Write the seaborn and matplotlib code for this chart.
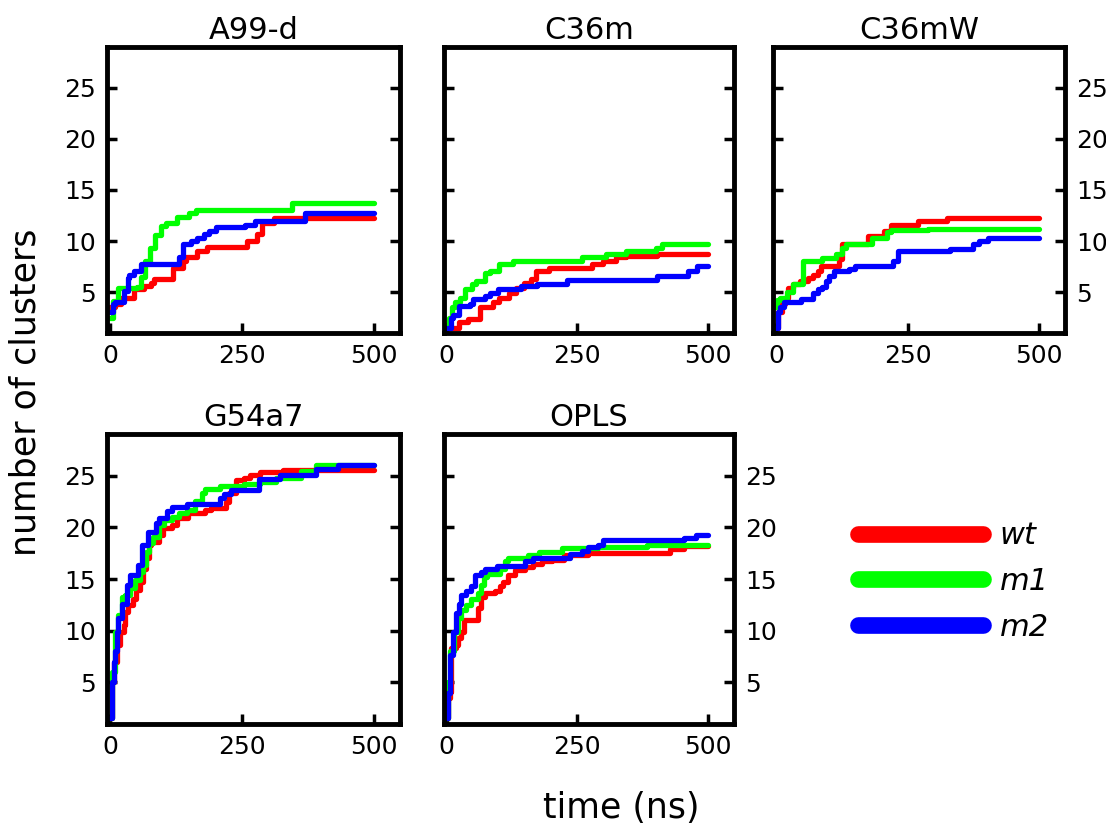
import pandas as pd
import matplotlib.pyplot as plt
import seaborn as sns
from matplotlib.lines import Line2D

sns.set_theme(style="white")
plt.rcParams['font.family'] = ['DejaVu Sans']
plt.rcParams['text.color'] = 'black'

# time (ns) / number of clusters
a99_wt_t = [0, 8, 20, 45, 64, 77, 83, 118, 137, 143, 165, 184, 259, 278, 288, 310, 500]
a99_wt_n = [3.5, 3.8, 4.4, 5.3, 5.6, 5.9, 6.3, 7.4, 8.0, 8.4, 9.0, 9.4, 10.0, 10.7, 11.8, 12.3, 12.3]
a99_m1_t = [0, 5, 15, 50, 58, 65, 75, 85, 95, 105, 127, 149, 162, 344, 500]
a99_m1_n = [2.5, 4.1, 5.4, 5.5, 6.5, 8.0, 9.3, 10.6, 11.5, 11.8, 12.4, 12.7, 13.0, 13.7, 13.7]
a99_m2_t = [0, 4, 8, 26, 33, 36, 45, 58, 124, 130, 137, 152, 165, 178, 187, 200, 256, 275, 363, 370, 500]
a99_m2_n = [3.0, 3.8, 4.0, 5.1, 6.4, 6.7, 7.1, 7.7, 7.7, 8.4, 9.7, 10.0, 10.3, 10.7, 11.0, 11.4, 11.6, 12.0, 12.0, 12.7, 12.7]

c36m_wt_t = [0, 23, 41, 63, 89, 101, 120, 133, 148, 161, 170, 195, 277, 299, 324, 343, 403, 500]
c36m_wt_n = [1.5, 2.1, 2.4, 3.5, 4.0, 4.4, 4.9, 5.4, 5.9, 6.3, 7.1, 7.4, 7.7, 8.0, 8.4, 8.5, 8.7, 8.7]
c36m_m1_t = [0, 5, 10, 16, 26, 35, 48, 57, 73, 82, 101, 126, 258, 305, 343, 400, 412, 500]
c36m_m1_n = [1.8, 2.5, 3.5, 4.0, 4.4, 5.3, 5.8, 6.1, 6.9, 7.1, 7.7, 8.0, 8.4, 8.7, 9.0, 9.3, 9.7, 9.7]
c36m_m2_t = [0, 8, 13, 23, 45, 51, 73, 82, 98, 142, 173, 230, 403, 462, 478, 500]
c36m_m2_n = [1.5, 2.5, 2.8, 3.6, 3.8, 4.3, 4.6, 4.9, 5.3, 5.6, 5.8, 6.2, 6.6, 7.1, 7.6, 7.6]

c36mw_wt_t = [0, 3, 11, 17, 23, 32, 45, 60, 70, 79, 85, 119, 126, 175, 206, 219, 269, 325, 500]
c36mw_wt_n = [1.5, 3.0, 3.8, 4.4, 5.4, 5.8, 6.1, 6.4, 6.7, 7.1, 7.6, 8.2, 9.7, 10.5, 11.0, 11.6, 12.0, 12.3, 12.3]
c36mw_m1_t = [0, 2, 8, 20, 32, 51, 88, 113, 126, 132, 182, 210, 219, 289, 500]
c36mw_m1_n = [3.5, 4.2, 4.4, 5.0, 5.8, 8.0, 8.3, 8.7, 9.3, 9.7, 10.3, 10.9, 11.1, 11.2, 11.2]
c36mw_m2_t = [0, 3, 7, 14, 48, 70, 79, 88, 95, 101, 110, 138, 150, 222, 231, 331, 374, 387, 403, 500]
c36mw_m2_n = [1.5, 3.0, 3.5, 4.0, 4.3, 4.9, 5.3, 5.5, 6.1, 6.6, 7.1, 7.3, 7.6, 8.0, 9.0, 9.2, 9.7, 10.0, 10.3, 10.3]

g54_wt_t = [0, 3, 6, 12, 19, 25, 28, 34, 43, 49, 56, 62, 68, 74, 77, 93, 99, 117, 127, 148, 179, 191, 219, 225, 238, 253, 265, 284, 327, 500]
g54_wt_n = [1.5, 5.0, 7.0, 8.6, 9.9, 10.5, 11.8, 12.5, 13.1, 13.9, 14.7, 16.0, 17.0, 18.3, 18.6, 19.3, 19.9, 20.2, 20.9, 21.4, 21.7, 21.9, 22.5, 23.3, 24.6, 24.8, 25.1, 25.4, 25.6, 25.6]
g54_m1_t = [0, 3, 9, 15, 22, 28, 37, 46, 56, 62, 68, 74, 80, 93, 102, 117, 130, 145, 160, 173, 179, 207, 253, 284, 315, 361, 389, 500]
g54_m1_n = [1.5, 6.0, 9.9, 11.5, 13.3, 13.5, 14.1, 14.9, 15.7, 16.4, 17.6, 18.5, 19.1, 20.2, 20.7, 21.0, 21.4, 21.7, 22.6, 23.3, 23.7, 24.0, 24.2, 24.4, 24.8, 25.5, 26.0, 26.0]
g54_m2_t = [0, 3, 6, 9, 12, 15, 22, 31, 37, 52, 59, 71, 86, 93, 108, 117, 145, 207, 216, 228, 281, 321, 389, 432, 500]
g54_m2_n = [1.5, 5.0, 7.0, 8.0, 9.9, 11.2, 12.6, 14.4, 15.4, 16.4, 18.3, 19.6, 20.4, 20.9, 21.6, 22.0, 22.3, 22.8, 23.2, 23.6, 24.7, 25.1, 25.7, 26.0, 26.0]

opls_wt_t = [0, 3, 6, 9, 18, 21, 27, 34, 59, 65, 74, 93, 102, 108, 118, 130, 149, 165, 183, 202, 224, 271, 426, 454, 500]
opls_wt_n = [1.5, 3.5, 4.1, 8.3, 8.6, 9.3, 9.9, 11.0, 12.2, 13.3, 13.6, 13.8, 14.3, 14.7, 15.4, 15.9, 16.2, 16.5, 16.7, 16.8, 17.3, 17.5, 17.9, 18.2, 18.2]
opls_m1_t = [0, 3, 6, 15, 21, 27, 37, 46, 59, 65, 71, 77, 102, 112, 118, 155, 177, 221, 289, 383, 500]
opls_m1_n = [1.5, 5.0, 8.0, 9.9, 11.2, 12.0, 12.5, 13.1, 13.6, 14.4, 15.2, 15.5, 16.0, 16.7, 17.0, 17.3, 17.6, 18.0, 18.1, 18.3, 18.3]
opls_m2_t = [0, 3, 6, 12, 18, 24, 27, 37, 46, 55, 65, 74, 96, 149, 165, 236, 258, 271, 289, 299, 454, 476, 500]
opls_m2_n = [1.5, 4.0, 7.6, 9.9, 11.7, 12.6, 13.5, 13.8, 14.3, 15.4, 15.7, 16.0, 16.3, 16.7, 17.0, 17.4, 17.7, 18.1, 18.3, 18.8, 19.0, 19.3, 19.3]

titles = ['A99-d', 'C36m', 'C36mW', 'G54a7', 'OPLS']
variants = ['wt', 'm1', 'm2']
colors = {'wt': '#ff0000', 'm1': '#00ff00', 'm2': '#0000ff'}

series = {
    'A99-d': [(a99_wt_t, a99_wt_n), (a99_m1_t, a99_m1_n), (a99_m2_t, a99_m2_n)],
    'C36m': [(c36m_wt_t, c36m_wt_n), (c36m_m1_t, c36m_m1_n), (c36m_m2_t, c36m_m2_n)],
    'C36mW': [(c36mw_wt_t, c36mw_wt_n), (c36mw_m1_t, c36mw_m1_n), (c36mw_m2_t, c36mw_m2_n)],
    'G54a7': [(g54_wt_t, g54_wt_n), (g54_m1_t, g54_m1_n), (g54_m2_t, g54_m2_n)],
    'OPLS': [(opls_wt_t, opls_wt_n), (opls_m1_t, opls_m1_n), (opls_m2_t, opls_m2_n)],
}

frames = []
for ff in titles:
    for v, (t, n) in zip(variants, series[ff]):
        frames.append(pd.DataFrame({'ff': ff, 'variant': v, 'time': t, 'clusters': n}))
df = pd.concat(frames, ignore_index=True)

fig = plt.figure(figsize=(11.06, 8.26), dpi=100)

# axes boxes [left, bottom, width, height], and which side gets y labels
boxes = {
    'A99-d': ([0.097, 0.597, 0.265, 0.346], 'left'),
    'C36m': ([0.401, 0.597, 0.263, 0.346], None),
    'C36mW': ([0.699, 0.597, 0.264, 0.346], 'right'),
    'G54a7': ([0.097, 0.124, 0.265, 0.350], 'left'),
    'OPLS': ([0.401, 0.124, 0.263, 0.350], 'right'),
}

for ff in titles:
    box, side = boxes[ff]
    ax = fig.add_axes(box)
    sns.lineplot(data=df[df.ff == ff], x='time', y='clusters', hue='variant',
                 palette=colors, hue_order=variants, estimator=None,
                 drawstyle='steps-post', linewidth=3.8, legend=False, ax=ax)
    ax.set_xlim(-6, 550)
    ax.set_ylim(1, 29)
    ax.set_xticks([0, 250, 500])
    ax.set_yticks([5, 10, 15, 20, 25])
    ax.set_xlabel('')
    ax.set_ylabel('')
    ax.set_title(ff, fontsize=22, pad=6, color='black')
    for s in ax.spines.values():
        s.set_linewidth(3.5)
        s.set_color('black')
    ax.tick_params(axis='both', direction='in', length=7, width=2.5,
                   labelsize=18, colors='black')
    ax.tick_params(axis='x', top=False, bottom=True, pad=8)
    ax.tick_params(axis='y', left=True, right=True, pad=8,
                   labelleft=(side == 'left'), labelright=(side == 'right'))

fig.text(0.023, 0.525, 'number of clusters', rotation=90, fontsize=25,
         ha='center', va='center')
fig.text(0.562, 0.022, 'time (ns)', fontsize=25, ha='center', va='center')

handles = [Line2D([0], [0], color=colors[v], linewidth=12, solid_capstyle='round')
           for v in variants]
leg = fig.legend(handles, variants, loc='center', bbox_to_anchor=(0.862, 0.296),
                 frameon=False, handlelength=4.1, labelspacing=0.55,
                 handletextpad=0.55, prop={'size': 22, 'style': 'italic'})

plt.savefig('out.png', dpi=100)
plt.close()
